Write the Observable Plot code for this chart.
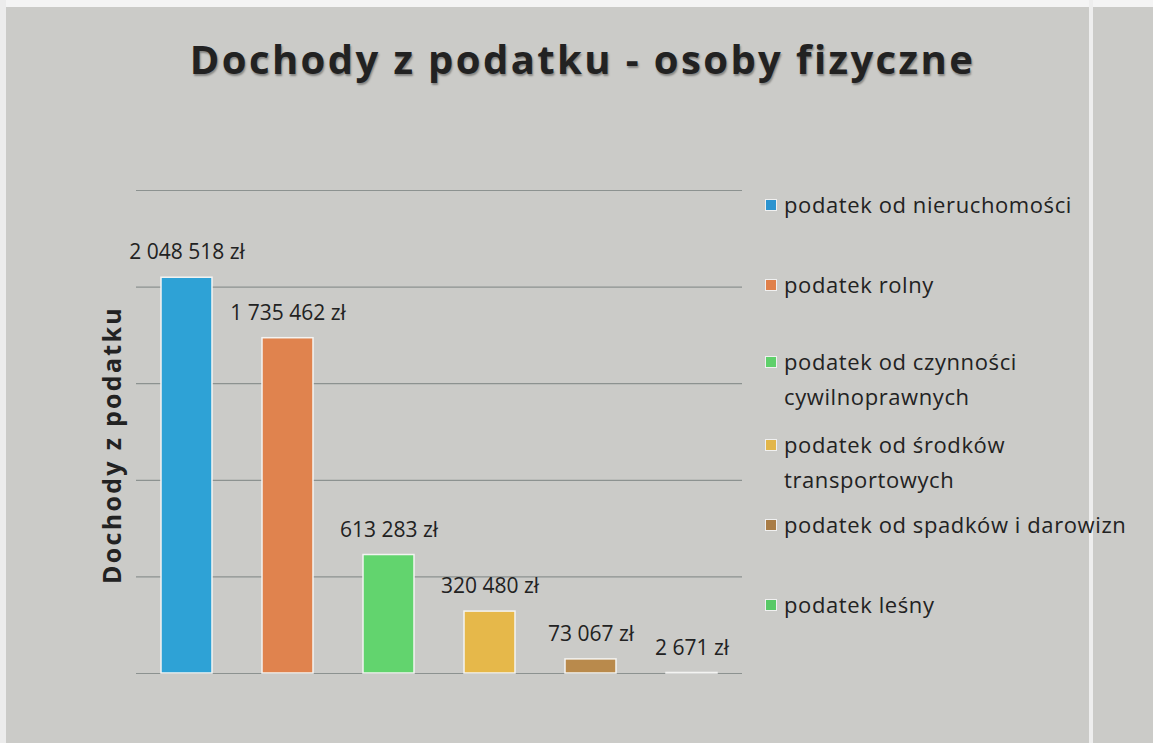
<!DOCTYPE html>
<html>
<head>
<meta charset="utf-8">
<script src="https://cdn.jsdelivr.net/npm/d3@7"></script>
<script src="https://cdn.jsdelivr.net/npm/@observablehq/plot@0.6"></script>
<style>
  html, body { margin: 0; padding: 0; }
  body { width: 1153px; height: 743px; overflow: hidden; background: #cbcbc8; font-family: "Open Sans", sans-serif; }
  #wrap { position: relative; width: 1153px; height: 743px; background: #cbcbc8; }
  #topstrip { position: absolute; left: 0; top: 0; width: 1153px; height: 7px; background: #f4f4f4; }
  #leftstrip { position: absolute; left: 0; top: 0; width: 6px; height: 743px; background: #ececec; }
  #edge { position: absolute; left: 1089px; top: 0; width: 4px; height: 743px; background: #eeeeee; }
  #title { position: absolute; left: 0; width: 1165px; top: 31px; text-align: center; font-family: "Open Sans", sans-serif; font-weight: 700; font-size: 40px; letter-spacing: 2.4px; color: #222; text-shadow: 1px 2px 2px rgba(0,0,0,0.35); white-space: nowrap; }
  #ylabel { position: absolute; left: 111px; top: 445px; transform: translate(-50%, -50%) rotate(-90deg); font-weight: 700; font-size: 25px; letter-spacing: 2.3px; color: #222; white-space: nowrap; }
  #legend { position: absolute; left: 765px; top: 0; }
  .item { position: absolute; left: 0; width: 390px; font-size: 22px; letter-spacing: 0.6px; line-height: 35px; color: #222; white-space: nowrap; }
  .sw { position: absolute; left: 0; top: 12px; width: 10px; height: 10px; border: 1px solid #f0f0f0; }
  .txt { position: absolute; left: 19px; top: 0; }
  svg { position: absolute; left: 0; top: 0; }
</style>
</head>
<body>
<div id="wrap">
  <div id="topstrip"></div>
  <div id="leftstrip"></div>
  <div id="edge"></div>
  <div id="title"></div>
  <div id="ylabel"></div>
  <div id="legend"></div>
</div>
<script>
const categories = [
  "podatek od nieruchomości",
  "podatek rolny",
  "podatek od czynności cywilnoprawnych",
  "podatek od środków transportowych",
  "podatek od spadków i darowizn",
  "podatek leśny"
];
const legendLabels = [
  ["podatek od nieruchomości"],
  ["podatek rolny"],
  ["podatek od czynności", "cywilnoprawnych"],
  ["podatek od środków", "transportowych"],
  ["podatek od spadków i darowizn"],
  ["podatek leśny"]
];
const values = [2048518, 1735462, 613283, 320480, 73067, 2671];
const barColors = ["#2ea2d6", "#e0834e", "#62d46e", "#e6b84a", "#b98a4c", "#f2f2f0"];
const legendColors = ["#2b93cf", "#e0804a", "#5fd06b", "#e2b64a", "#a97d47", "#58c966"];
const gridTicks = [0, 500000, 1000000, 1500000, 2000000, 2500000];
const titleText = "Dochody z podatku - osoby fizyczne";
const yLabelText = "Dochody z podatku";

const data = categories.map((c, i) => ({cat: c, value: values[i], color: barColors[i]}));
const fmt = v => d3.format(",")(v).replace(/,/g, " ") + " zł";

const W = 1153, H = 743;
const plot = Plot.plot({
  width: W,
  height: H,
  marginLeft: 136,
  marginRight: W - 742,
  marginTop: 190,
  marginBottom: H - 673,
  style: {background: "transparent", fontFamily: "'Open Sans', sans-serif"},
  x: {domain: categories, paddingInner: 0.5, paddingOuter: 0.25, axis: null},
  y: {domain: [0, 2500000], axis: null},
  marks: [
    Plot.ruleY(gridTicks, {stroke: "#8c9290", strokeWidth: 1.2}),
    Plot.barY(data, {x: "cat", y: "value", fill: "color", stroke: "#f4f4f2", strokeWidth: 1.5}),
    Plot.text(data, {x: "cat", y: "value", text: d => fmt(d.value), dy: -25, fontSize: 21, fill: "#222", fontFamily: "'Open Sans', sans-serif", letterSpacing: "0.8px"})
  ]
});
document.getElementById("wrap").appendChild(plot);

document.getElementById("title").textContent = titleText;
document.getElementById("ylabel").textContent = yLabelText;

const legendTops = [187, 267, 344, 427, 507, 587];
const leg = document.getElementById("legend");
legendLabels.forEach((lines, i) => {
  const it = document.createElement("div");
  it.className = "item";
  it.style.top = legendTops[i] + "px";
  const sw = document.createElement("div");
  sw.className = "sw";
  sw.style.background = legendColors[i];
  it.appendChild(sw);
  const t = document.createElement("div");
  t.className = "txt";
  t.innerHTML = lines.join("<br>");
  it.appendChild(t);
  leg.appendChild(it);
});
</script>
</body>
</html>
